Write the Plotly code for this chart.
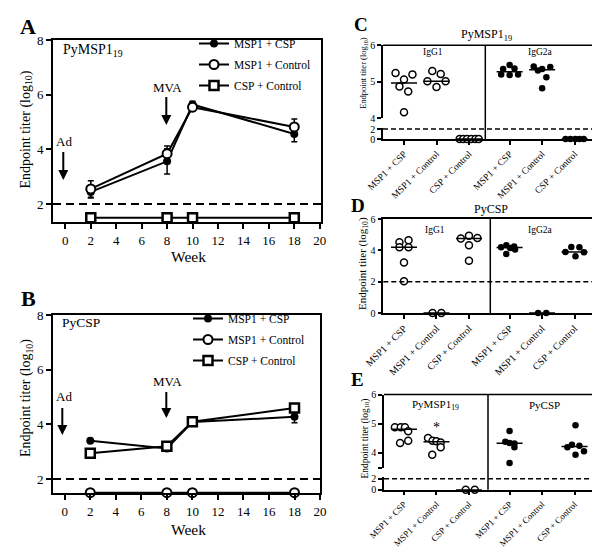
import plotly.graph_objects as go
from statistics import median

W, H = 600, 547
FONT = "Liberation Serif, Times New Roman, serif"


def px(x):
    return x / W


def py(y):
    return 1 - y / H


# ---------------- Panels A / B : time course ----------------
weeks = [2, 8, 10, 18]
week_ticks = [0, 2, 4, 6, 8, 10, 12, 14, 16, 18, 20]
series_names = ["MSP1 + CSP", "MSP1 + Control", "CSP + Control"]

a_msp1_csp = [2.44, 3.56, 5.64, 4.56]
a_msp1_csp_err = [0.22, 0.46, 0.12, 0.28]
a_msp1_control = [2.55, 3.84, 5.54, 4.82]
a_msp1_control_err = [0.30, 0.28, 0.15, 0.29]
a_csp_control = [1.5, 1.5, 1.5, 1.5]

b_msp1_csp = [3.40, 3.12, 4.09, 4.28]
b_msp1_csp_err = [0.03, 0.04, 0.05, 0.22]
b_msp1_control = [1.5, 1.5, 1.5, 1.5]
b_csp_control = [2.95, 3.20, 4.10, 4.60]
b_csp_control_err = [0.03, 0.05, 0.05, 0.10]

# ---------------- Panels C / D / E : dot plots ----------------
group_labels = ["MSP1 + CSP", "MSP1 + Control", "CSP + Control"]

# C  PyMSP1-19
c_igg1_values = [[5.24, 5.20, 5.06, 4.87, 4.73, 4.16],
                 [5.29, 5.21, 5.01, 5.01, 4.85],
                 [0, 0, 0, 0, 0, 0]]
c_igg1_jitter = [[-0.26, 0.26, 0.0, -0.14, 0.13, 0.0],
                 [-0.13, 0.13, -0.28, 0.28, 0.0],
                 [-0.29, -0.18, -0.06, 0.07, 0.20, 0.30]]
c_igg2a_values = [[5.46, 5.35, 5.36, 5.20, 5.18, 5.20],
                  [5.42, 5.31, 5.35, 5.40, 5.12, 4.82],
                  [0, 0, 0, 0, 0]]
c_igg2a_jitter = [[0.0, -0.2, 0.15, -0.26, 0.0, 0.26],
                  [-0.26, -0.13, 0.0, 0.25, 0.13, 0.0],
                  [-0.28, -0.13, 0.02, 0.15, 0.28]]

# D  PyCSP
d_igg1_values = [[4.51, 4.64, 4.19, 4.19, 3.23, 2.02],
                 [0, 0],
                 [4.76, 4.93, 4.79, 4.32, 3.34]]
d_igg1_jitter = [[-0.14, 0.14, -0.14, 0.14, 0.0, 0.0],
                 [-0.12, 0.15],
                 [-0.25, 0.0, 0.26, 0.0, 0.0]]
d_igg2a_values = [[4.20, 4.32, 4.15, 4.25, 4.05, 3.76],
                  [0, 0],
                  [4.21, 4.19, 3.89, 3.87, 3.62]]
d_igg2a_jitter = [[-0.26, -0.1, 0.02, 0.14, 0.17, -0.1],
                  [-0.12, 0.13],
                  [-0.1, 0.15, -0.28, 0.29, 0.03]]

# E  IgG titers
e_msp1_values = [[4.88, 4.88, 4.88, 4.74, 4.34, 4.42],
                 [4.51, 4.42, 4.40, 4.36, 4.20, 3.94],
                 [0, 0]]
e_msp1_jitter = [[-0.28, -0.1, 0.03, 0.13, -0.12, 0.13],
                 [-0.26, -0.12, 0.0, 0.13, 0.13, -0.13],
                 [-0.1, 0.18]]
e_csp_values = [[4.75, 4.38, 4.34, 4.32, 4.20, 3.66],
                [],
                [4.95, 4.20, 4.28, 4.25, 4.06, 3.94]]
e_csp_jitter = [[0.0, -0.13, 0.0, 0.15, 0.15, 0.0],
                [],
                [0.03, -0.22, -0.08, 0.15, 0.29, 0.03]]

GROUP2_START = 3.25
tick_positions = [0, 1, 2, GROUP2_START, GROUP2_START + 1, GROUP2_START + 2]
tick_text = group_labels + group_labels

fig = go.Figure()

# ---------- time-course traces ----------
m_filled = dict(symbol="circle", size=8, color="black", line=dict(color="black", width=0))
m_open = dict(symbol="circle", size=9, color="white", line=dict(color="black", width=2))
m_square = dict(symbol="square", size=9, color="white", line=dict(color="black", width=2.5))


def ts(x, y, err, name, marker, xa, ya, legend):
    eb = dict(type="data", array=err, color="black", thickness=1.5, width=3) if err else dict(visible=False)
    return go.Scatter(x=x, y=y, name=name, mode="lines+markers", error_y=eb,
                      line=dict(color="black", width=2), marker=marker,
                      xaxis=xa, yaxis=ya, legend=legend, legendgroup=legend + name,
                      cliponaxis=False)


fig.add_trace(ts(weeks, a_msp1_csp, a_msp1_csp_err, series_names[0], m_filled, "x", "y", "legend"))
fig.add_trace(ts(weeks, a_msp1_control, a_msp1_control_err, series_names[1], m_open, "x", "y", "legend"))
fig.add_trace(ts(weeks, a_csp_control, None, series_names[2], m_square, "x", "y", "legend"))

fig.add_trace(ts(weeks, b_msp1_csp, b_msp1_csp_err, series_names[0], m_filled, "x2", "y2", "legend2"))
fig.add_trace(ts(weeks, b_msp1_control, None, series_names[1], m_open, "x2", "y2", "legend2"))
fig.add_trace(ts(weeks, b_csp_control, b_csp_control_err, series_names[2], m_square, "x2", "y2", "legend2"))


# ---------- dot-plot traces ----------
def add_dots(values, jitters, base, xa, ya_hi, ya_lo, split, is_open):
    pts = {ya_hi: ([], [])}
    meds = {ya_hi: ([], [])}
    if ya_lo:
        pts[ya_lo] = ([], [])
        meds[ya_lo] = ([], [])
    for i, (vals, jit) in enumerate(zip(values, jitters)):
        c = base + i
        for v, j in zip(vals, jit):
            ya = ya_lo if (ya_lo and v < split) else ya_hi
            pts[ya][0].append(c + j)
            pts[ya][1].append(v)
        if vals:
            m = median(vals)
            ya = ya_lo if (ya_lo and m < split) else ya_hi
            meds[ya][0].extend([c - 0.4, c + 0.4, None])
            meds[ya][1].extend([m, m, None])
    marker = dict(symbol="circle", size=7 if is_open else 6.5,
                  color="white" if is_open else "black",
                  line=dict(color="black", width=1.5 if is_open else 0))
    for ya, (xs, ys) in pts.items():
        if xs:
            fig.add_trace(go.Scatter(x=xs, y=ys, mode="markers", marker=marker, xaxis=xa, yaxis=ya,
                                     showlegend=False, cliponaxis=False, hoverinfo="y"))
    for ya, (xs, ys) in meds.items():
        if xs:
            fig.add_trace(go.Scatter(x=xs, y=ys, mode="lines", line=dict(color="black", width=1.5),
                                     xaxis=xa, yaxis=ya, showlegend=False, cliponaxis=False,
                                     hoverinfo="skip"))


add_dots(c_igg1_values, c_igg1_jitter, 0, "x3", "y3", "y4", 3, True)
add_dots(c_igg2a_values, c_igg2a_jitter, GROUP2_START, "x3", "y3", "y4", 3, False)
add_dots(d_igg1_values, d_igg1_jitter, 0, "x4", "y5", None, 3, True)
add_dots(d_igg2a_values, d_igg2a_jitter, GROUP2_START, "x4", "y5", None, 3, False)
add_dots(e_msp1_values, e_msp1_jitter, 0, "x5", "y6", "y7", 3, True)
add_dots(e_csp_values, e_csp_jitter, GROUP2_START, "x5", "y6", "y7", 3, False)


# ---------- axes ----------
def ax(**kw):
    d = dict(showline=True, linecolor="black", linewidth=2, ticks="outside", tickcolor="black",
             tickwidth=2, ticklen=5, showgrid=False, zeroline=False, automargin=False,
             tickfont=dict(family=FONT, size=13, color="black"), fixedrange=True)
    d.update(kw)
    return d


def ax_small(size=10, **kw):
    d = ax(linewidth=1.5, tickwidth=1.5, ticklen=4, tickfont=dict(family=FONT, size=size, color="black"))
    d.update(kw)
    return d


# geometry (pixels)
C_L, C_R, C_T, C_DIV = 375, 585, 37.3, 477.3
C_UB, C_LT, C_B = 110, 119.5, 131
D_L, D_R, D_T, D_B, D_DIV = 375.3, 588.3, 211, 305, 482.3
E_L, E_R, E_T, E_DIV = 376, 588.3, 386.5, 480
E_UB, E_LT, E_B = 459.6, 469, 481.7

fig.update_layout(
    width=W, height=H, margin=dict(l=0, r=0, t=0, b=0),
    paper_bgcolor="white", plot_bgcolor="white",
    font=dict(family=FONT, color="black"),
    xaxis=ax(domain=[px(45), px(313)], range=[-0.97, 20.1], tickvals=week_ticks, anchor="y", mirror=True),
    yaxis=ax(domain=[py(214), py(32)], range=[1.34, 8], tickvals=[2, 4, 6, 8], anchor="x", mirror=True),
    xaxis2=ax(domain=[px(45), px(312.3)], range=[-0.92, 20.02], tickvals=week_ticks, anchor="y2", mirror=True),
    yaxis2=ax(domain=[py(485), py(307.3)], range=[1.49, 8], tickvals=[2, 4, 6, 8], anchor="x2", mirror=True),
    xaxis3=ax_small(size=9.5, domain=[px(C_L), px(C_R)], range=[-0.646, 5.815], anchor="y4",
                    tickvals=tick_positions, ticktext=tick_text, tickangle=-45),
    yaxis3=ax_small(domain=[py(C_UB), py(C_T)], range=[4, 6], tickvals=[4, 5, 6], anchor="x3"),
    yaxis4=ax_small(domain=[py(C_B), py(C_LT)], range=[0, 2.3], tickvals=[0, 2], anchor="x3"),
    xaxis4=ax_small(size=10, domain=[px(D_L), px(D_R)], range=[-0.637, 5.92], anchor="y5", mirror=True,
                    tickvals=tick_positions, ticktext=tick_text, tickangle=-45),
    yaxis5=ax_small(domain=[py(D_B), py(D_T)], range=[0, 6], tickvals=[0, 2, 4, 6], anchor="x4", mirror=True),
    xaxis5=ax_small(size=9, domain=[px(E_L), px(E_R)], range=[-0.615, 5.92], anchor="y7",
                    tickvals=tick_positions, ticktext=tick_text, tickangle=-45),
    yaxis6=ax_small(domain=[py(E_UB), py(E_T)], range=[3.5, 6], tickvals=[3.5, 4, 5, 6],
                    ticktext=[" ", "4", "5", "6"], anchor="x5"),
    yaxis7=ax_small(domain=[py(E_B), py(E_LT)], range=[0, 2.3], tickvals=[0, 2], anchor="x5"),
    legend=dict(x=px(186), y=py(21), xanchor="left", yanchor="top", bgcolor="rgba(0,0,0,0)",
                font=dict(family=FONT, size=11.5, color="black"), itemwidth=30, tracegroupgap=2),
    legend2=dict(x=px(180), y=py(296), xanchor="left", yanchor="top", bgcolor="rgba(0,0,0,0)",
                 font=dict(family=FONT, size=11.5, color="black"), itemwidth=30, tracegroupgap=2),
)

# ---------- shapes ----------
shapes = []


def dashed(xd, yr, dash, width):
    shapes.append(dict(type="line", xref=xd, x0=0, x1=1, yref=yr, y0=2, y1=2,
                       line=dict(color="black", width=width, dash=dash)))


dashed("x domain", "y", "8px,5px", 2)
dashed("x2 domain", "y2", "8px,5px", 2)
dashed("x3 domain", "y4", "5px,3px", 1.5)
dashed("x4 domain", "y5", "5px,3px", 1.5)
dashed("x5 domain", "y7", "5px,3px", 1.5)


def pline(x0, y0, x1, y1):
    shapes.append(dict(type="line", xref="paper", yref="paper", x0=px(x0), x1=px(x1), y0=py(y0), y1=py(y1),
                       line=dict(color="black", width=1.5)))


# C frame
pline(C_L, C_T, C_R, C_T)
pline(C_R, C_T, C_R, C_B)
pline(C_DIV, C_T, C_DIV, C_B)
# D divider
pline(D_DIV, D_T, D_DIV, D_B)
# E frame
pline(E_L, E_T, E_R, E_T)
pline(E_R, E_T, E_R, E_B)
pline(E_DIV, E_T, E_DIV, E_B)

fig.update_layout(shapes=shapes)

# ---------- annotations ----------
ann = []


def txt(x, y, s, size, bold=False, angle=0, xanchor="center"):
    ann.append(dict(x=px(x), y=py(y), xref="paper", yref="paper", text=f"<b>{s}</b>" if bold else s,
                    showarrow=False, xanchor=xanchor, yanchor="middle", textangle=angle,
                    font=dict(family=FONT, size=size, color="black")))


def arrow(x, y_tail, y_head):
    ann.append(dict(x=px(x), y=py(y_head), xref="paper", yref="paper", text=" ", showarrow=True,
                    ax=0, ay=-(y_head - y_tail), arrowhead=2, arrowsize=1, arrowwidth=2,
                    arrowcolor="black", font=dict(size=1)))


ytitle = "Endpoint titer (log<sub>10</sub>)"
# Panel letters
txt(20, 18, "A", 22, bold=True)
txt(20, 290, "B", 22, bold=True)
txt(353, 16, "C", 19, bold=True)
txt(349.5, 197.5, "D", 19, bold=True)
txt(349, 371.5, "E", 19, bold=True)

# A
txt(53, 43, "PyMSP1<sub>19</sub>", 14, xanchor="left")
txt(56, 133, "Ad", 13)
arrow(55.3, 142, 172)
txt(159.5, 79, "MVA", 13)
arrow(158.3, 87, 117)
txt(18, 121.5, ytitle, 14, angle=-90)
txt(180, 248, "Week", 15.5)

# B
txt(52, 314.3, "PyCSP", 13.5, xanchor="left")
txt(56, 388.3, "Ad", 13)
arrow(54.3, 398, 427)
txt(159.5, 373.3, "MVA", 13)
arrow(158.3, 382, 410)
txt(18, 390, ytitle, 14, angle=-90)
txt(180, 521.7, "Week", 15.5)

# C
txt(478, 26.7, "PyMSP1<sub>19</sub>", 12)
txt(425, 44.3, "IgG1", 9.5)
txt(532.5, 44.3, "IgG2a", 9.5)
txt(355, 65, ytitle, 8.5, angle=-90)

# D
txt(482.5, 200.7, "PyCSP", 12)
txt(427, 221.7, "IgG1", 9.5)
txt(532, 221.7, "IgG2a", 9.5)
txt(355, 256, ytitle, 11, angle=-90)

# E
txt(427.5, 396.7, "PyMSP1<sub>19</sub>", 11)
txt(536.7, 396.7, "PyCSP", 11)
txt(356.5, 431, ytitle, 9.5, angle=-90)
txt(428.3, 419, "*", 14)

fig.update_layout(annotations=ann)

fig.write_html("out.html")
